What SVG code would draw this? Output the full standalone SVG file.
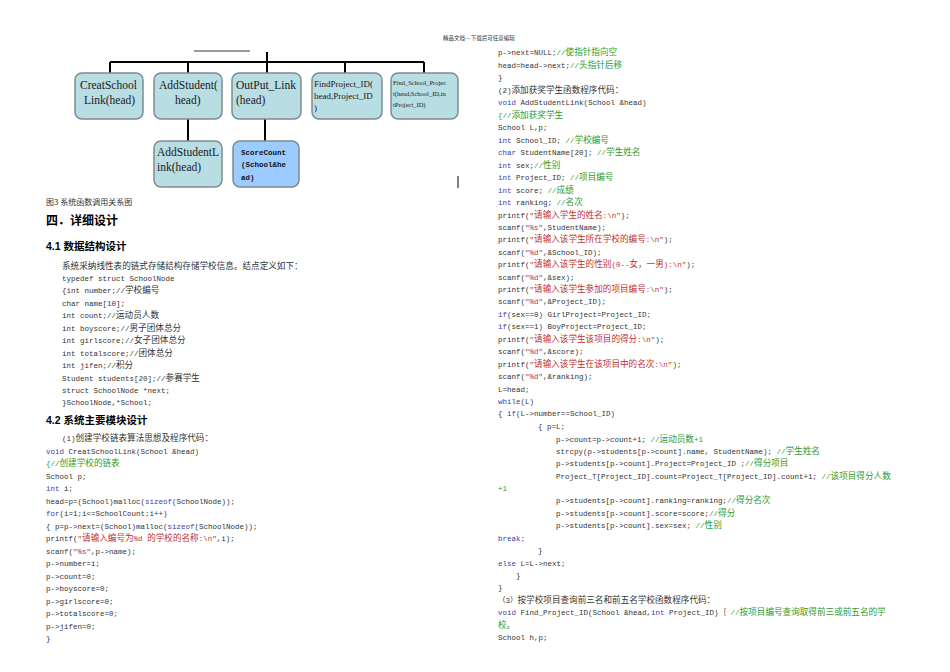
<svg xmlns="http://www.w3.org/2000/svg" width="950" height="672" viewBox="0 0 950 672">
<style>
.bx{fill:#b8dde3;stroke:#7d8c8e;stroke-width:1.5}
.bl{fill:#9ccbff;stroke:#7d8c8e;stroke-width:1.5}
.ln{stroke:#000;stroke-width:2;fill:none}
.bt{font-family:"Liberation Serif",serif;font-size:11.5px;fill:#1a1a1a}
.m{font-family:"Liberation Mono","Noto Sans CJK SC",monospace;font-size:7.5px;fill:#333}
.c{font-family:"Noto Sans CJK SC",sans-serif;font-size:8.6px}
.k{fill:#3b3bb0}.g{fill:#2e9a2e}.r{fill:#c03030}
.h{font-family:"Liberation Sans","Noto Sans CJK SC",sans-serif;font-weight:bold;fill:#000}
.cap{font-family:"Noto Sans CJK SC",serif;font-size:8px;fill:#333}
</style>
<rect width="950" height="672" fill="#fff"/>
<text x="443" y="40" class="cap" font-size="5.5" style="font-size:5.5px">精品文档---下载后可任意编辑</text>
<g id="connectors">
<line x1="194" y1="51" x2="250" y2="51" stroke="#000" stroke-width="0.8"/>
<path class="ln" d="M267 52V62M110 62H424M110 62V73M188 62V73M267 62V73M345 62V73M424 62V73M188 119V141M265 119V141"/>
<line x1="458" y1="176" x2="458" y2="188" stroke="#000" stroke-width="1"/>
</g>
<g id="n1"><rect class="bx" x="75" y="73" width="68" height="46" rx="7"/><text class="bt" x="80" y="89">CreatSchool</text><text class="bt" x="84" y="104">Link(head)</text></g>
<g id="n2"><rect class="bx" x="154" y="73" width="68" height="46" rx="7"/><text class="bt" x="159" y="89">AddStudent(</text><text class="bt" x="175" y="104">head)</text></g>
<g id="n3"><rect class="bx" x="232" y="73" width="69" height="46" rx="7"/><text class="bt" x="236" y="89">OutPut_Link</text><text class="bt" x="236" y="104">(head)</text></g>
<g id="n4"><rect class="bx" x="312" y="73" width="70" height="46" rx="7"/><text class="bt" x="314" y="87" style="font-size:9px">FindProject_ID(</text><text class="bt" x="314" y="99" style="font-size:9px">head,Project_ID</text><text class="bt" x="314" y="111" style="font-size:9px">)</text></g>
<g id="n5"><rect class="bx" x="391" y="73" width="67" height="46" rx="7"/><text class="bt" x="393" y="85" style="font-size:6.5px">Find_School_Projec</text><text class="bt" x="393" y="96" style="font-size:6.5px">t(head,School_ID,in</text><text class="bt" x="393" y="107" style="font-size:6.5px">tProject_ID)</text></g>
<g id="n6"><rect class="bx" x="154" y="141" width="68" height="46" rx="7"/><text class="bt" x="157" y="156">AddStudentL</text><text class="bt" x="157" y="171">ink(head)</text></g>
<g id="n7"><rect class="bl" x="233" y="141" width="66" height="46" rx="7"/><text class="m" x="241" y="155" font-weight="bold" style="font-size:7.5px;fill:#111;font-weight:bold">ScoreCount</text><text class="m" x="241" y="167" style="fill:#111;font-weight:bold">(School&amp;he</text><text class="m" x="241" y="180" style="fill:#111;font-weight:bold">ad)</text></g>
<text class="cap" x="46" y="205">图3 系统函数调用关系图</text>
<text class="h" x="46" y="225" font-size="12">四．详细设计</text>
<text class="h" x="46" y="250" font-size="10.5">4.1 数据结构设计</text>
<g class="m">
<text x="62" y="269"><tspan class="c">系统采纳线性表的链式存储结构存储学校信息。结点定义如下：</tspan></text>
<text x="62" y="281">typedef struct SchoolNode</text>
<text x="62" y="293">{int number;//<tspan class="c">学校编号</tspan></text>
<text x="62" y="306"> char name[10];</text>
<text x="62" y="318"> int count;//<tspan class="c">运动员人数</tspan></text>
<text x="62" y="331"> int boyscore;//<tspan class="c">男子团体总分</tspan></text>
<text x="62" y="343"> int girlscore;//<tspan class="c">女子团体总分</tspan></text>
<text x="62" y="356"> int totalscore;//<tspan class="c">团体总分</tspan></text>
<text x="62" y="368"> int jifen;//<tspan class="c">积分</tspan></text>
<text x="62" y="381"> Student students[20];//<tspan class="c">参赛学生</tspan></text>
<text x="62" y="393"> struct SchoolNode *next;</text>
<text x="62" y="405">}SchoolNode,*School;</text>
</g>
<text class="h" x="46" y="424" font-size="10.5">4.2 系统主要模块设计</text>
<g class="m">
<text x="62" y="441">(1)<tspan class="c">创建学校链表算法思想及程序代码：</tspan></text>
<text x="46" y="454"><tspan class="k">void</tspan> CreatSchoolLink(School &amp;head)</text>
<text x="46" y="466" class="g">{//<tspan class="c">创建学校的链表</tspan></text>
<text x="46" y="479"> School p;</text>
<text x="46" y="491"><tspan class="k">int</tspan> i;</text>
<text x="46" y="504"> head=p=(School)malloc(<tspan class="k">sizeof</tspan>(SchoolNode));</text>
<text x="46" y="516"><tspan class="k">for</tspan>(i=1;i&lt;=SchoolCount;i++)</text>
<text x="46" y="529"> { p=p-&gt;next=(School)malloc(<tspan class="k">sizeof</tspan>(SchoolNode));</text>
<text x="46" y="541">   printf(<tspan class="r">"<tspan class="c">请输入编号为</tspan>%d <tspan class="c">的学校的名称</tspan>:\n"</tspan>,i);</text>
<text x="46" y="554">   scanf(<tspan class="r">"%s"</tspan>,p-&gt;name);</text>
<text x="46" y="566">   p-&gt;number=i;</text>
<text x="46" y="579">   p-&gt;count=0;</text>
<text x="46" y="591">   p-&gt;boyscore=0;</text>
<text x="46" y="604">   p-&gt;girlscore=0;</text>
<text x="46" y="616">   p-&gt;totalscore=0;</text>
<text x="46" y="629">   p-&gt;jifen=0;</text>
<text x="46" y="641"> }</text>
</g>
<g class="m">
<text x="498" y="55"> p-&gt;next=NULL;<tspan class="g">//<tspan class="c">使指针指向空</tspan></tspan></text>
<text x="498" y="68"> head=head-&gt;next;<tspan class="g">//<tspan class="c">头指针后移</tspan></tspan></text>
<text x="498" y="80">}</text>
<text x="498" y="93">    (2)<tspan class="c">添加获奖学生函数程序代码：</tspan></text>
<text x="498" y="105"><tspan class="k">void</tspan> AddStudentLink(School &amp;head)</text>
<text x="498" y="118" class="g">{//<tspan class="c">添加获奖学生</tspan></text>
<text x="498" y="130"> School L,p;</text>
<text x="498" y="143"><tspan class="k">int</tspan> School_ID;  <tspan class="g">//<tspan class="c">学校编号</tspan></tspan></text>
<text x="498" y="155"><tspan class="k">char</tspan> StudentName[20];  <tspan class="g">//<tspan class="c">学生姓名</tspan></tspan></text>
<text x="498" y="168"><tspan class="k">int</tspan> sex;<tspan class="g">//<tspan class="c">性别</tspan></tspan></text>
<text x="498" y="180"><tspan class="k">int</tspan> Project_ID; <tspan class="g">//<tspan class="c">项目编号</tspan></tspan></text>
<text x="498" y="193"><tspan class="k">int</tspan> score;   <tspan class="g">//<tspan class="c">成绩</tspan></tspan></text>
<text x="498" y="205"><tspan class="k">int</tspan> ranking;  <tspan class="g">//<tspan class="c">名次</tspan></tspan></text>
<text x="498" y="218"> printf(<tspan class="r">"<tspan class="c">请输入学生的姓名</tspan>:\n"</tspan>);</text>
<text x="498" y="230"> scanf(<tspan class="r">"%s"</tspan>,StudentName);</text>
<text x="498" y="242"> printf(<tspan class="r">"<tspan class="c">请输入该学生所在学校的编号</tspan>:\n"</tspan>);</text>
<text x="498" y="255"> scanf(<tspan class="r">"%d"</tspan>,&amp;School_ID);</text>
<text x="498" y="267"> printf(<tspan class="r">"<tspan class="c">请输入该学生的性别</tspan>(0--<tspan class="c">女，一男</tspan>):\n"</tspan>);</text>
<text x="498" y="280"> scanf(<tspan class="r">"%d"</tspan>,&amp;sex);</text>
<text x="498" y="292"> printf(<tspan class="r">"<tspan class="c">请输入该学生参加的项目编号</tspan>:\n"</tspan>);</text>
<text x="498" y="304"> scanf(<tspan class="r">"%d"</tspan>,&amp;Project_ID);</text>
<text x="498" y="317"><tspan class="k">if</tspan>(sex==0) GirlProject=Project_ID;</text>
<text x="498" y="329"><tspan class="k">if</tspan>(sex==1) BoyProject=Project_ID;</text>
<text x="498" y="342"> printf(<tspan class="r">"<tspan class="c">请输入该学生该项目的得分</tspan>:\n"</tspan>);</text>
<text x="498" y="354"> scanf(<tspan class="r">"%d"</tspan>,&amp;score);</text>
<text x="498" y="367"> printf(<tspan class="r">"<tspan class="c">请输入该学生在该项目中的名次</tspan>:\n"</tspan>);</text>
<text x="498" y="379"> scanf(<tspan class="r">"%d"</tspan>,&amp;ranking);</text>
<text x="498" y="392"> L=head;</text>
<text x="498" y="404"><tspan class="k">while</tspan>(L)</text>
<text x="498" y="416">  { <tspan class="k">if</tspan>(L-&gt;number==School_ID)</text>
<text x="538" y="429">{   p=L;</text>
<text x="556" y="442">p-&gt;count=p-&gt;count+1;  <tspan class="g">//<tspan class="c">运动员数</tspan>+1</tspan></text>
<text x="556" y="454">strcpy(p-&gt;students[p-&gt;count].name, StudentName); <tspan class="g">//<tspan class="c">学生姓名</tspan></tspan></text>
<text x="556" y="466">p-&gt;students[p-&gt;count].Project=Project_ID ;<tspan class="g">//<tspan class="c">得分项目</tspan></tspan></text>
<text x="556" y="479">Project_T[Project_ID].count=Project_T[Project_ID].count+1;  <tspan class="g">//<tspan class="c">该项目得分人数</tspan></tspan></text>
<text x="498" y="491" class="g">+1</text>
<text x="556" y="503">p-&gt;students[p-&gt;count].ranking=ranking;<tspan class="g">//<tspan class="c">得分名次</tspan></tspan></text>
<text x="556" y="516">p-&gt;students[p-&gt;count].score=score;<tspan class="g">//<tspan class="c">得分</tspan></tspan></text>
<text x="556" y="528">p-&gt;students[p-&gt;count].sex=sex;  <tspan class="g">//<tspan class="c">性别</tspan></tspan></text>
<text x="498" y="541" class="k">break;</text>
<text x="538" y="553">}</text>
<text x="498" y="566"><tspan class="k">else</tspan> L=L-&gt;next;</text>
<text x="516" y="578">}</text>
<text x="498" y="590">}</text>
<text x="498" y="603">（3）<tspan class="c">按学校项目查询前三名和前五名学校函数程序代码：</tspan></text>
<text x="498" y="615"><tspan class="k">void</tspan> Find_Project_ID(School &amp;head,<tspan class="k">int</tspan> Project_ID)｛ <tspan class="g">//<tspan class="c">按项目编号查询取得前三或前五名的学</tspan></tspan></text>
<text x="498" y="628" class="g"><tspan class="c">校。</tspan></text>
<text x="498" y="640">    School h,p;</text>
</g>
</svg>
